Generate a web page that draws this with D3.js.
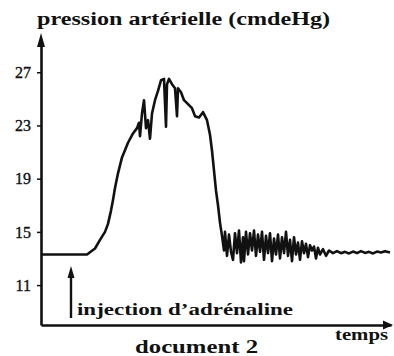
<!DOCTYPE html>
<html>
<head>
<meta charset="utf-8">
<script src="https://cdn.jsdelivr.net/npm/d3@7"></script>
<style>
  html, body { margin: 0; padding: 0; background: #fff; }
  svg { display: block; }
</style>
</head>
<body>
<svg id="chart" width="394" height="356"></svg>
<script>
// Blood pressure record (cm Hg) over time, before and after an adrenaline injection
const yTicks = [11, 15, 19, 23, 27];

const time = [
  0, 46, 54, 59, 64, 67, 70, 72, 74, 77, 81, 87, 92, 96, 98, 99, 101, 103, 105, 107,
  109, 111, 114, 117, 120, 123, 125, 126, 128, 131, 134, 136, 137, 140, 143, 147, 151, 154, 158, 162,
  166, 169, 171, 173, 175, 177, 179, 181, 183, 184, 186, 188, 190, 192, 194, 196, 198, 200, 202, 203,
  205, 207, 209, 211, 213, 215, 217, 219, 221, 223, 225, 227, 229, 231, 233, 235, 237, 239, 241, 243,
  245, 247, 249, 251, 253, 255, 257, 259, 261, 263, 265, 267, 269, 271, 273, 275, 277, 279, 282, 285,
  288, 292, 296, 300, 304, 308, 312, 316, 320, 324, 328, 332, 336, 340, 344, 349
];

const pressure = [
  13.3, 13.3, 13.75, 14.4, 15.0, 15.6, 16.6, 17.4, 18.3, 19.4, 20.6, 21.7, 22.4, 22.8, 23.2, 22.2, 23.9, 24.9, 22.8, 23.4,
  22.0, 23.9, 24.9, 25.6, 26.4, 26.5, 22.9, 26.1, 26.5, 26.1, 25.8, 23.7, 25.8, 25.5, 24.9, 24.6, 24.3, 23.7, 23.6, 24.0,
  23.4, 22.3, 21.1, 19.6, 18.1, 17.0, 15.7, 14.7, 13.6, 15.0, 13.2, 14.8, 13.5, 12.9, 14.9, 13.4, 15.1, 12.7, 14.6, 12.8,
  15.0, 13.3, 14.9, 13.6, 15.1, 13.2, 14.8, 13.5, 15.0, 12.9, 14.7, 13.4, 14.9, 12.8, 14.5, 13.3, 14.8, 13.0, 14.6, 13.4,
  15.0, 13.2, 14.4, 12.8, 14.6, 13.3, 14.2, 12.9, 14.3, 13.4, 14.1, 13.1, 14.0, 13.6, 13.9, 13.0, 13.8, 13.3, 13.7, 13.2,
  13.6, 13.4, 13.55, 13.4, 13.5, 13.38, 13.52, 13.4, 13.55, 13.42, 13.5, 13.38, 13.52, 13.45, 13.55, 13.45
];

const injectionTime = 30;

const svg = d3.select("#chart");
const serif = "Liberation Serif";
const ink = "#111";

const x = d3.scaleLinear().domain([0, 350]).range([41, 391]);
const y = d3.scaleLinear().domain([8, 29.5]).range([325, 39]);

function label(xp, yp, size, width, txt) {
  return svg.append("text")
    .attr("x", xp).attr("y", yp)
    .attr("font-family", serif)
    .style("font-family", `"${serif}"`)
    .attr("font-size", size).attr("font-weight", "bold")
    .attr("textLength", width).attr("lengthAdjust", "spacingAndGlyphs")
    .attr("fill", ink)
    .text(txt);
}

// Title of the vertical axis
label(37, 25, 18, 293, "pression artérielle (cmdeHg)");

// Vertical axis with ticks
const yAxis = svg.append("g")
  .attr("transform", `translate(${x(0)},0)`)
  .call(d3.axisLeft(y).tickValues(yTicks).tickSize(4).tickSizeOuter(0).tickPadding(6))
  .attr("font-family", serif);
yAxis.select(".domain").attr("stroke", ink).attr("stroke-width", 2.6);
yAxis.selectAll(".tick line").attr("stroke", ink).attr("stroke-width", 1.5);
yAxis.selectAll(".tick text")
  .attr("font-family", serif)
  .style("font-family", `"${serif}"`)
  .attr("font-size", 16).attr("fill", ink)
  .attr("stroke", ink).attr("stroke-width", 0.35);

// Horizontal (time) axis without ticks
const xAxis = svg.append("g")
  .attr("transform", `translate(0,${y(8)})`)
  .call(d3.axisBottom(x).tickValues([]).tickSizeOuter(0));
xAxis.select(".domain").attr("stroke", ink).attr("stroke-width", 2.4);

// Arrowheads on both axes
svg.append("path")
  .attr("d", `M${x(0)},${y(29.5) - 6} L${x(0) - 4},${y(29.5) + 8} L${x(0) + 4},${y(29.5) + 8} Z`)
  .attr("fill", ink);
svg.append("path")
  .attr("d", `M${x(350) + 2},${y(8)} L${x(350) - 8},${y(8) - 4.5} L${x(350) - 8},${y(8) + 4.5} Z`)
  .attr("fill", ink);

// Pressure trace
const line = d3.line()
  .x((d, i) => x(time[i]))
  .y(d => y(d));
svg.append("path")
  .datum(pressure)
  .attr("d", line)
  .attr("fill", "none")
  .attr("stroke", ink)
  .attr("stroke-width", 2.6)
  .attr("stroke-linejoin", "round");

// Injection marker
const ix = x(injectionTime);
svg.append("line")
  .attr("x1", ix).attr("x2", ix)
  .attr("y1", 318).attr("y2", 274)
  .attr("stroke", ink).attr("stroke-width", 2.4);
svg.append("path")
  .attr("d", `M${ix},266 L${ix - 3.5},278 L${ix + 3.5},278 Z`)
  .attr("fill", ink);
label(77, 315, 17, 216, "injection d’adrénaline");

// Axis name and document caption
label(335, 340, 16, 53, "temps");
label(135, 353, 18, 123, "document 2");
</script>
</body>
</html>
